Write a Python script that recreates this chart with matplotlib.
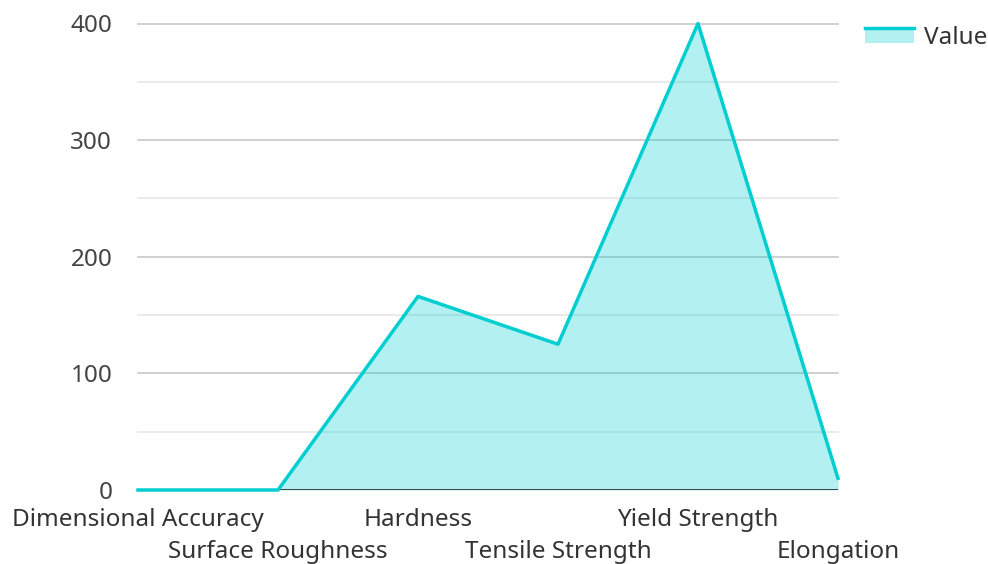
import matplotlib
matplotlib.use('Agg')
import matplotlib.pyplot as plt
from matplotlib.patches import Rectangle
from matplotlib.lines import Line2D
from matplotlib.legend_handler import HandlerBase
import numpy as np

categories = ['Dimensional Accuracy', 'Surface Roughness', 'Hardness',
              'Tensile Strength', 'Yield Strength', 'Elongation']
values = [0, 0, 166, 125, 400, 10]
y_ticks = [0, 100, 200, 300, 400]

LINE = '#00CED1'
FS = 17.5

plt.rcParams['font.family'] = ['Noto Sans', 'DejaVu Sans']


class AreaHandler(HandlerBase):
    # legend key: filled box with the series line along its top edge
    def create_artists(self, legend, orig_handle, xdescent, ydescent,
                       width, height, fontsize, trans):
        top = height * 0.95
        box = Rectangle((-xdescent, -ydescent + height * 0.05), width, top - height * 0.05,
                        facecolor=LINE, alpha=0.3, edgecolor='none', transform=trans)
        ln = Line2D([-xdescent, -xdescent + width], [top, top], color=LINE,
                    lw=2.5, transform=trans)
        return [box, ln]


fig = plt.figure(figsize=(9.88, 5.64), dpi=100)
ax = fig.add_axes([138 / 988, 74 / 564, 700 / 988, 466.5 / 564])

x = np.arange(len(categories))
ax.fill_between(x, values, 0, color=LINE, alpha=0.3, lw=0)
ax.plot(x, values, color=LINE, lw=2.5, clip_on=False, zorder=4)

ax.set_xlim(0, len(categories) - 1)
ax.set_ylim(0, 400)

# grid: major every 100, lighter lines halfway between
for v in range(50, 401, 50):
    ax.axhline(v, color='#c8c8c8' if v % 100 == 0 else '#e6e6e6',
               lw=1.2, zorder=0, clip_on=False)
ax.axhline(0, color='#333333', lw=2, zorder=3)

for s in ax.spines.values():
    s.set_visible(False)

ax.set_yticks(y_ticks)
ax.tick_params(axis='y', length=0, pad=18.5, labelsize=FS, labelcolor='#444444')
ax.set_xticks(x)
ax.set_xticklabels(categories)
ax.tick_params(axis='x', length=0, labelsize=FS, labelcolor='#333333')
for i, tick in enumerate(ax.xaxis.get_major_ticks()):
    tick.set_pad(13 if i % 2 == 0 else 36)

handle = Rectangle((0, 0), 1, 1)
ax.legend([handle], ['Value'], handler_map={Rectangle: AreaHandler()},
          loc='upper left', bbox_to_anchor=(865 / 988, 1 - 26 / 564),
          bbox_transform=fig.transFigure, frameon=False, fontsize=FS,
          handlelength=2.0, handletextpad=0.42, borderaxespad=0,
          borderpad=0, labelcolor='#333333')

fig.savefig('out.png', dpi=100)
